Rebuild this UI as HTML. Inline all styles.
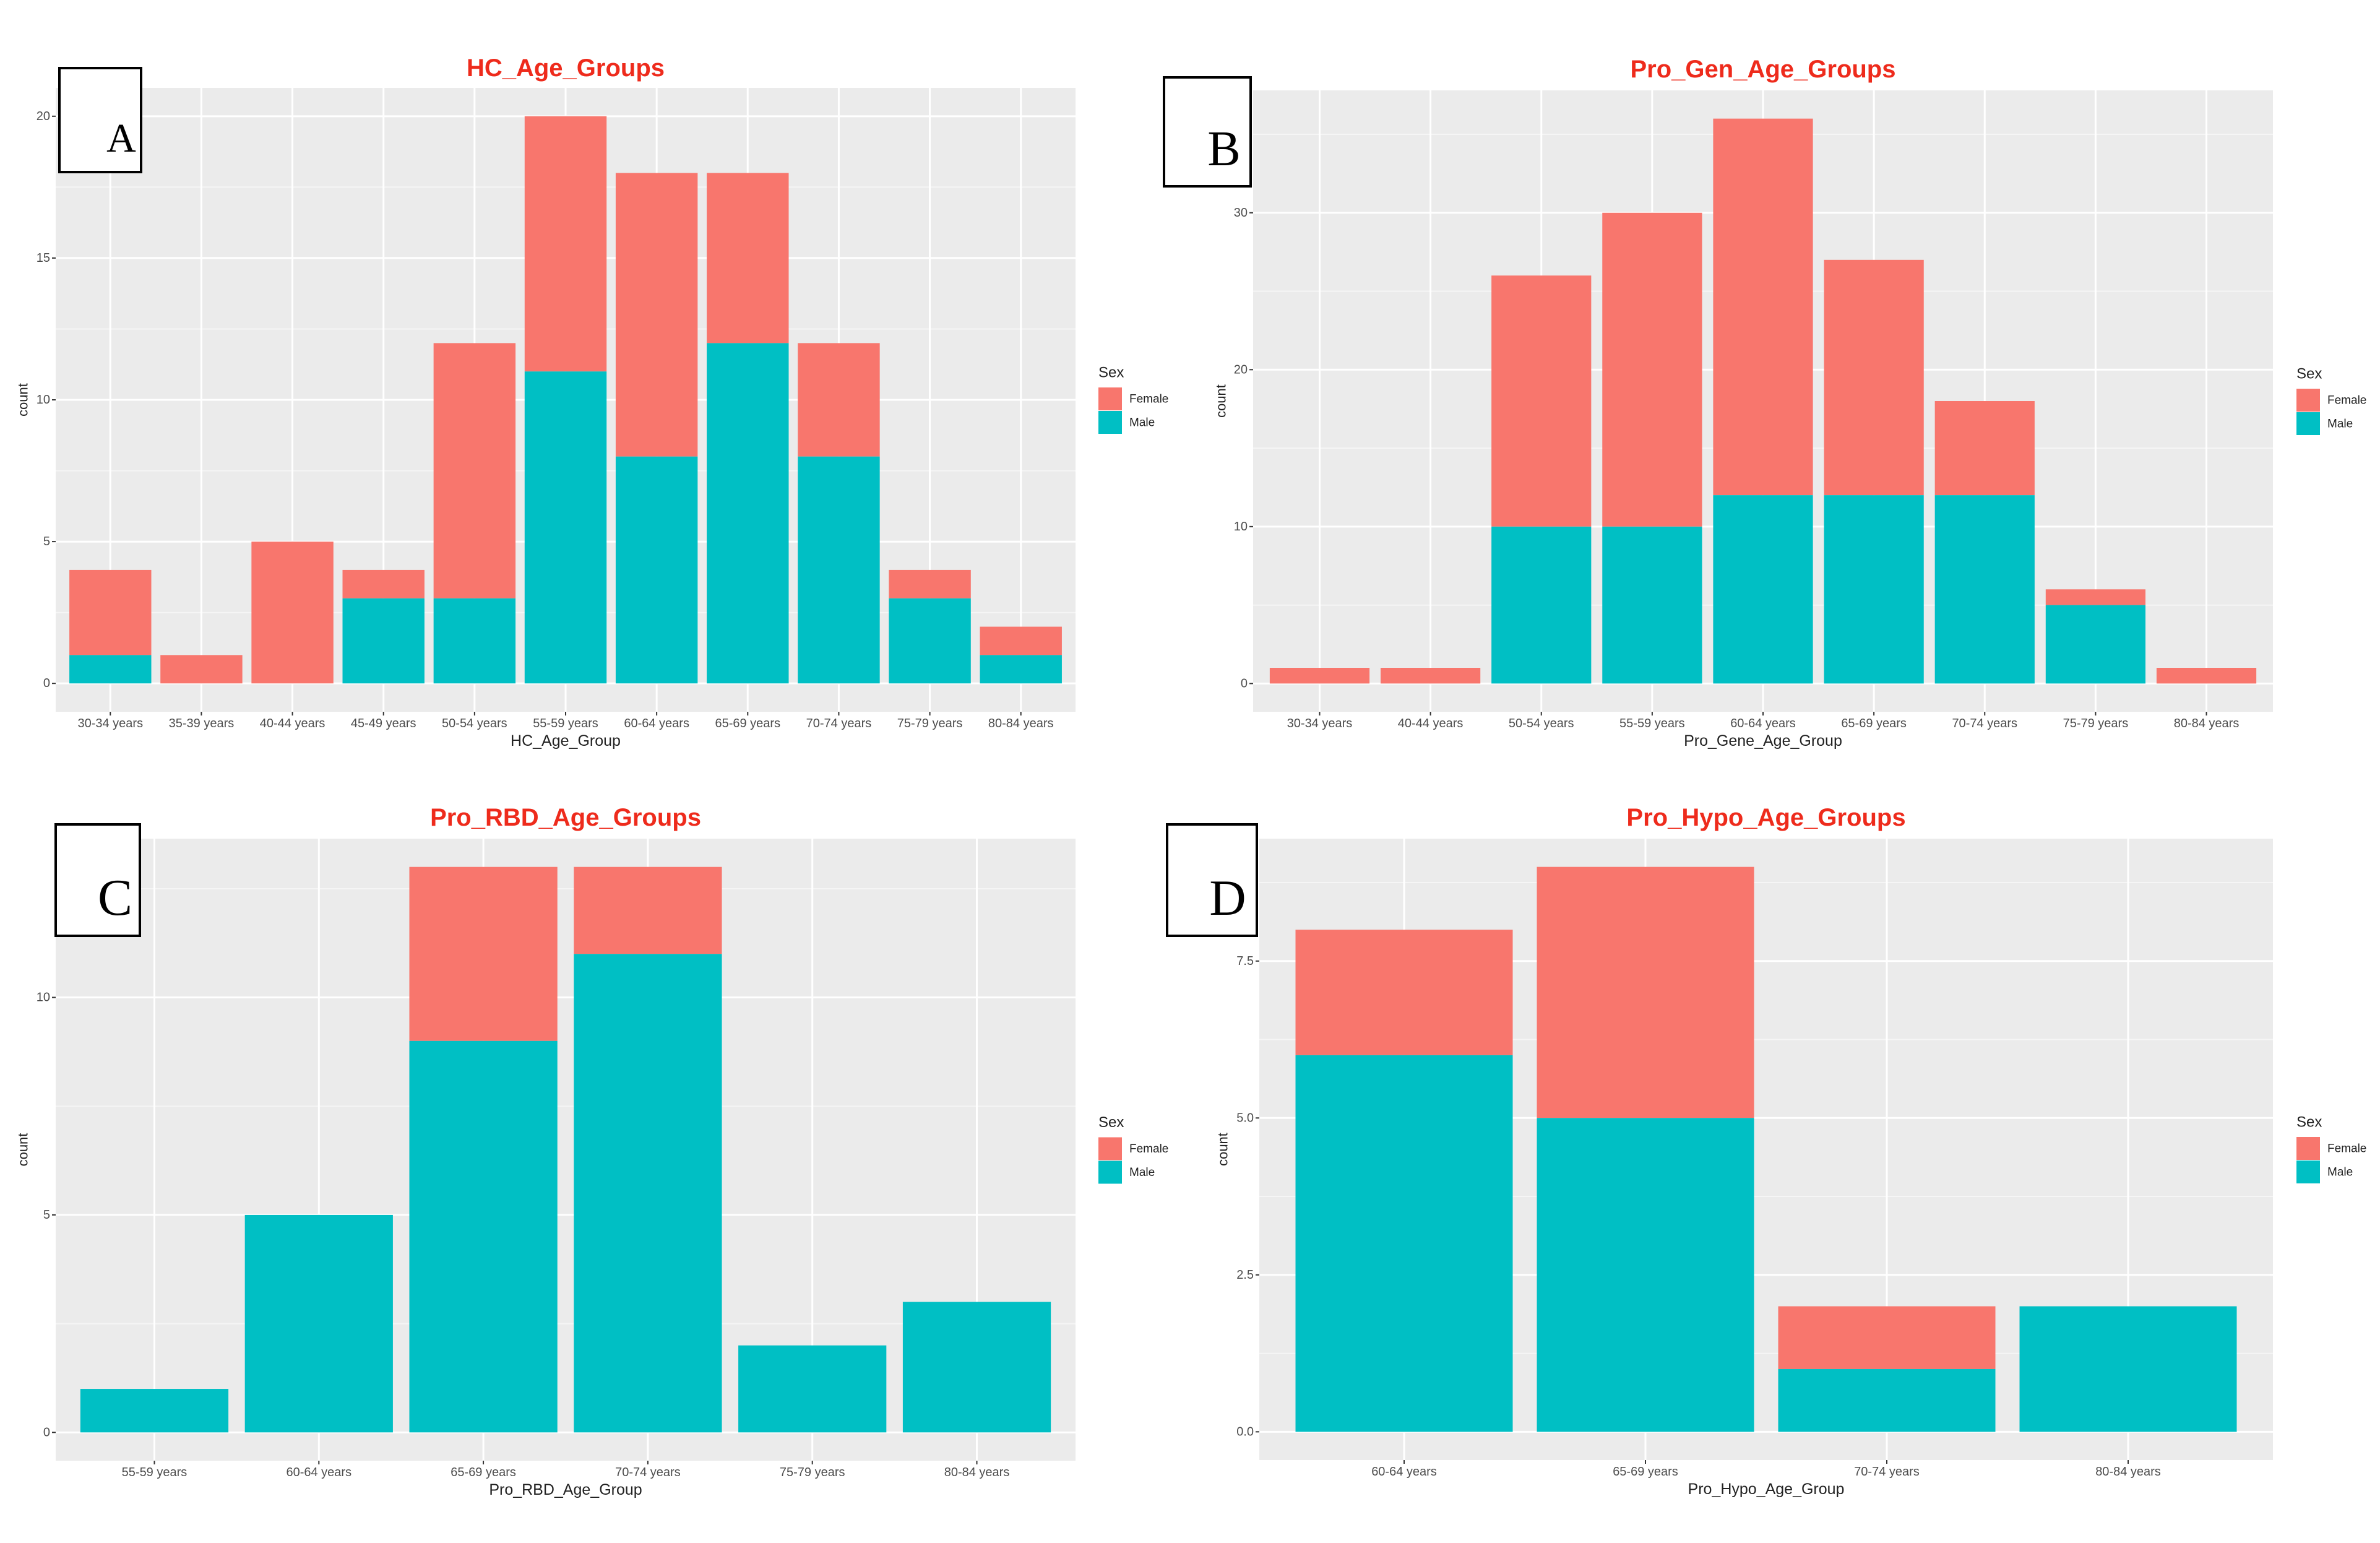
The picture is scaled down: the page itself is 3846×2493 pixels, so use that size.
<!DOCTYPE html>
<html><head><meta charset="utf-8"><style>
html,body{margin:0;padding:0;background:#fff;}
svg{display:block;}
text{font-family:"Liberation Sans",Arial,sans-serif;}
</style></head><body>
<svg id="chart" width="3846" height="2493" viewBox="0 0 3846 2493" xmlns="http://www.w3.org/2000/svg">
<rect x="0" y="0" width="3846" height="2493" fill="#ffffff"/>
</svg>
<script>
// Panel A
const hcCategories = ["30-34 years","35-39 years","40-44 years","45-49 years","50-54 years","55-59 years","60-64 years","65-69 years","70-74 years","75-79 years","80-84 years"];
const hcMale = [1,0,0,3,3,11,8,12,8,3,1];
const hcFemale = [3,1,5,1,9,9,10,6,4,1,1];
const hcTicks = ["0","5","10","15","20"];
// Panel B
const genCategories = ["30-34 years","40-44 years","50-54 years","55-59 years","60-64 years","65-69 years","70-74 years","75-79 years","80-84 years"];
const genMale = [0,0,10,10,12,12,12,5,0];
const genFemale = [1,1,16,20,24,15,6,1,1];
const genTicks = ["0","10","20","30"];
// Panel C
const rbdCategories = ["55-59 years","60-64 years","65-69 years","70-74 years","75-79 years","80-84 years"];
const rbdMale = [1,5,9,11,2,3];
const rbdFemale = [0,0,4,2,0,0];
const rbdTicks = ["0","5","10"];
// Panel D
const hypoCategories = ["60-64 years","65-69 years","70-74 years","80-84 years"];
const hypoMale = [6,5,1,2];
const hypoFemale = [2,4,1,0];
const hypoTicks = ["0.0","2.5","5.0","7.5"];

const NS = "http://www.w3.org/2000/svg";
const svg = document.getElementById('chart');
function mk(tag, attrs, parent, txt){
  const e = document.createElementNS(NS, tag);
  for (const k in attrs) e.setAttribute(k, attrs[k]);
  if (txt !== undefined) e.textContent = txt;
  (parent||svg).appendChild(e);
  return e;
}

function panel(o){
  const g = mk('g', {});
  
  
  const bx=o.bx, by=o.by, bw=o.bw, bh=o.bh;
  const bg = mk('rect',{x:bx,y:by,width:bw,height:bh,fill:'#EBEBEB'},g);
  
  
  const totals = o.male.map((m,i)=>m+o.female[i]);
  const maxV = Math.max(...totals);
  const lo = -0.05*maxV, hi = maxV*1.05;
  const y = v => by + bh - (v-lo)/(hi-lo)*bh;
  const n = o.cats.length;
  const step = bw/(n+0.2);
  const x = i => bx + step*(0.6+i);
  const tickVals = o.ticks.map(parseFloat);
  const d = tickVals[1]-tickVals[0];
  for (let v = tickVals[0]-d/2; v <= hi; v += d){
    if (v < lo) continue;
    mk('line',{x1:bx,x2:bx+bw,y1:y(v),y2:y(v),stroke:'#F5F5F5','stroke-width':2},g);
  }
  o.ticks.forEach((t,i)=>{
    const v = tickVals[i];
    const gl = mk('line',{x1:bx,x2:bx+bw,y1:y(v),y2:y(v),stroke:'#ffffff','stroke-width':3},g);
    
    
    mk('line',{x1:bx-6,x2:bx,y1:y(v),y2:y(v),stroke:'#333','stroke-width':2},g);
    const tl = mk('text',{x:bx-9,y:y(v),'text-anchor':'end','dominant-baseline':'central','font-size':20,fill:'#4D4D4D'},g,t);
    
    
  });
  o.cats.forEach((c,i)=>{
    mk('line',{x1:x(i),x2:x(i),y1:by,y2:by+bh,stroke:'#ffffff','stroke-width':3},g);
    mk('line',{x1:x(i),x2:x(i),y1:by+bh,y2:by+bh+6,stroke:'#333','stroke-width':2},g);
    const tl = mk('text',{x:x(i),y:by+bh+19,'text-anchor':'middle','dominant-baseline':'central','font-size':20,fill:'#4D4D4D'},g,c);
    
    
  });
  const bwid = step*0.9;
  o.cats.forEach((c,i)=>{
    const m = o.male[i], f = o.female[i];
    if (f > 0){
      const r = mk('rect',{x:x(i)-bwid/2,y:y(m+f),width:bwid,height:y(m)-y(m+f),fill:'#F8766D'},g);
      
      
    }
    if (m > 0){
      const r = mk('rect',{x:x(i)-bwid/2,y:y(m),width:bwid,height:y(0)-y(m),fill:'#00BFC4'},g);
      
      
    }
  });
  const tt = mk('text',{x:bx+bw/2,y:o.ty,'text-anchor':'middle','dominant-baseline':'central','font-size':40,'font-weight':'bold',fill:'#EE2B1C'},g,o.title);
  
  
  const xt = mk('text',{x:bx+bw/2,y:by+bh+47,'text-anchor':'middle','dominant-baseline':'central','font-size':25,fill:'#222'},g,o.xtitle);
  
  
  const cy = by+bh/2;
  const yt = mk('text',{x:o.cx,y:cy,'text-anchor':'middle','dominant-baseline':'central','font-size':22,fill:'#222',transform:'rotate(-90 '+o.cx+' '+cy+')'},g,'count');
  
  
  const lg = mk('g',{},g);
  
  
  const lx = o.lx;
  mk('text',{x:lx,y:cy-44,'dominant-baseline':'central','font-size':24,fill:'#222'},lg,'Sex');
  const sf = mk('rect',{x:lx,y:cy-20,width:38,height:37,fill:'#F8766D'},lg);
  
  
  const sm = mk('rect',{x:lx,y:cy+18,width:38,height:37,fill:'#00BFC4'},lg);
  
  
  mk('text',{x:lx+50,y:cy-1,'dominant-baseline':'central','font-size':19,fill:'#222'},lg,'Female');
  mk('text',{x:lx+50,y:cy+37,'dominant-baseline':'central','font-size':19,fill:'#222'},lg,'Male');
  const lb = mk('g',{},svg);
  
  
  mk('rect',{x:o.box[0],y:o.box[1],width:o.box[2],height:o.box[3],fill:'#fff',stroke:'#000','stroke-width':4},lb);
  mk('text',{x:o.letterPos[0],y:o.letterPos[1],'text-anchor':'middle',style:'font-family:"Liberation Serif","Times New Roman",serif;font-size:'+o.letterSize+'px',fill:'#000'},lb,o.letter);
}

panel({name:'panel-a-hc',title:'HC_Age_Groups',xtitle:'HC_Age_Group',cats:hcCategories,male:hcMale,female:hcFemale,ticks:hcTicks,
  bx:90,by:142,bw:1648,bh:1008,ty:110,cx:37,lx:1775,box:[96,110,132,168],letter:'A',letterPos:[196,245],letterSize:66});
panel({name:'panel-b-gen',title:'Pro_Gen_Age_Groups',xtitle:'Pro_Gene_Age_Group',cats:genCategories,male:genMale,female:genFemale,ticks:genTicks,
  bx:2025,by:146,bw:1648,bh:1004,ty:112,cx:1973,lx:3711,box:[1881,125,140,176],letter:'B',letterPos:[1978,267],letterSize:80});
panel({name:'panel-c-rbd',title:'Pro_RBD_Age_Groups',xtitle:'Pro_RBD_Age_Group',cats:rbdCategories,male:rbdMale,female:rbdFemale,ticks:rbdTicks,
  bx:90,by:1355,bw:1648,bh:1005,ty:1321,cx:37,lx:1775,box:[90,1332,136,180],letter:'C',letterPos:[186,1478],letterSize:84});
panel({name:'panel-d-hypo',title:'Pro_Hypo_Age_Groups',xtitle:'Pro_Hypo_Age_Group',cats:hypoCategories,male:hypoMale,female:hypoFemale,ticks:hypoTicks,
  bx:2035,by:1355,bw:1638,bh:1004,ty:1321,cx:1976,lx:3711,box:[1886,1332,145,180],letter:'D',letterPos:[1984,1478],letterSize:82});
</script>
</body></html>
